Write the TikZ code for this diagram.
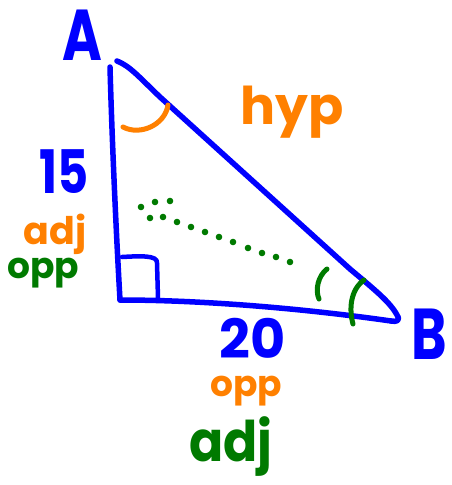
\documentclass[tikz,border=0pt]{standalone}
\usepackage{fontspec}
\setmainfont{Poppins}
\definecolor{pblue}{RGB}{0,0,255}
\definecolor{porange}{RGB}{255,128,0}
\definecolor{pgreen}{RGB}{0,122,0}
\begin{document}
\begin{tikzpicture}[x=1pt,y=-1pt,
  side/.style={draw=pblue,line width=5.5pt,line cap=round,line join=round},
  mark1/.style={line width=5pt,line cap=round},
  lbl/.style={inner sep=0pt,font=\bfseries}
]
\useasboundingbox[fill=white] (0,0) rectangle (451,485);
% vertices
\coordinate (A) at (117,61);
\coordinate (Atop) at (110,67);
\coordinate (C) at (120,300);
\coordinate (B) at (397,315);
\coordinate (Bb) at (391,321);
% triangle
\draw[side] (Atop) .. controls (112,140) and (116,230) .. (C);
\draw[side] (A) .. controls (130,66) and (140,78) .. (160,97) -- (350,269) .. controls (375,290) and (390,302) .. (B) .. controls (401,321) and (396,322) .. (Bb);
\draw[side] (C) .. controls (200,300) and (300,308) .. (Bb);
% right angle box
\coordinate (R1) at (122,257);
\coordinate (R2) at (157,263);
\coordinate (R3) at (158,298);
\draw[side,line width=4.5pt] (R1) .. controls (140,256) and (158,255) .. (R2) -- (R3);
% orange angle at A
\coordinate (oa1) at (123,127);
\coordinate (oa2) at (168,105);
\draw[mark1,draw=porange] (oa1) .. controls (140,136) and (165,125) .. (oa2);
% green angle marks at B
\coordinate (g1a) at (327,269);
\coordinate (g1b) at (319,299);
\draw[mark1,draw=pgreen] (g1a) .. controls (318,276) and (315,290) .. (g1b);
\coordinate (g2a) at (364,280);
\coordinate (g2b) at (353,324);
\draw[mark1,draw=pgreen] (g2a) .. controls (350,290) and (349,310) .. (g2b);
% green dots
\foreach \p in {(141,207),(155,202),(170,201),(150,218),(163,217),(177,222),(191,227),(205,232),(219,237),(233,242),(248,248),(262,253),(276,257),(290,262)}
  \fill[pgreen] \p circle (3.3pt);
% labels
\node[lbl,text=pblue,font=\bfseries\fontsize{72}{72}\selectfont,xscale=0.75] (lA) at (82,35) {A};
\node[lbl,text=pblue,font=\bfseries\fontsize{72}{72}\selectfont,xscale=0.75] (lB) at (429,334) {B};
\node[lbl,text=porange,font=\bfseries\fontsize{52}{52}\selectfont] (hyp) at (292,112) {hyp};
\node[lbl,text=pblue,font=\bfseries\fontsize{60}{60}\selectfont,xscale=0.8] (n15) at (64,172) {15};
\node[lbl,text=porange,font=\bfseries\fontsize{38}{38}\selectfont] (adj1) at (55,234) {adj};
\node[lbl,text=pgreen,font=\bfseries\fontsize{36}{36}\selectfont] (opp1) at (43,273) {opp};
\node[lbl,text=pblue,font=\bfseries\fontsize{54}{54}\selectfont] (n20) at (253,338) {20};
\node[lbl,text=porange,font=\bfseries\fontsize{36}{36}\selectfont] (opp2) at (246,391) {opp};
\node[lbl,text=pgreen,font=\bfseries\fontsize{56}{56}\selectfont,xscale=0.9] (adj2) at (231,447) {adj};
\end{tikzpicture}
\end{document}
